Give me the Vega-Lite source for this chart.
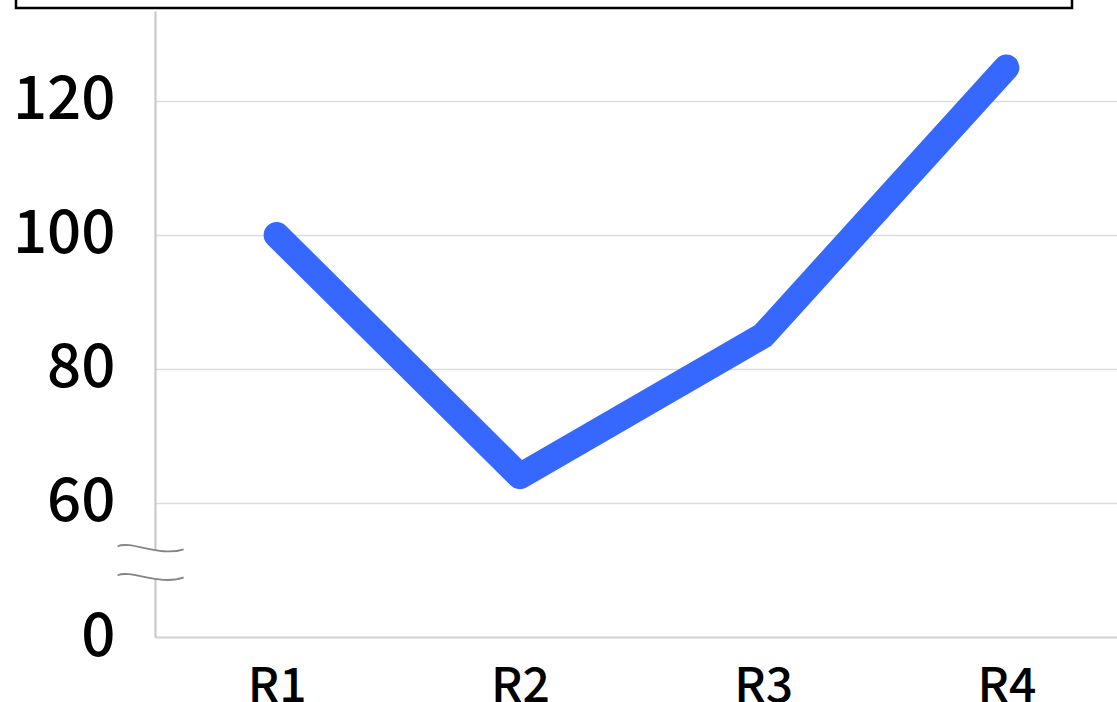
{
  "$schema": "https://vega.github.io/schema/vega-lite/v6.json",
  "padding": {"left": 12, "top": -25, "right": 0, "bottom": 0},
  "width": 973,
  "height": 626,
  "config": {
    "font": "Noto Sans CJK JP",
    "view": {"stroke": null},
    "legend": {"strokeWidth": 2.5}
  },
  "layer": [
    {
      "data": {"values": [
        {"round": "R1", "value": 100},
        {"round": "R2", "value": 64},
        {"round": "R3", "value": 85},
        {"round": "R4", "value": 125}
      ]},
      "mark": {"type": "line", "color": "#3667ff", "strokeWidth": 26, "strokeCap": "round", "strokeJoin": "round"},
      "encoding": {
        "x": {
          "field": "round", "type": "ordinal", "sort": null,
          "axis": {"title": null, "labelAngle": 0, "ticks": false, "grid": false, "labelFontSize": 48, "labelFontWeight": 500, "labelColor": "#000000", "labelPadding": 26, "domainColor": "#d6d6d6", "domainWidth": 2}
        },
        "y": {
          "field": "value", "type": "quantitative",
          "scale": {"domain": [40, 133.43], "nice": false, "zero": false},
          "axis": {"title": null, "values": [40, 60, 80, 100, 120], "labelExpr": "datum.value == 40 ? '0' : datum.label", "ticks": false, "labelPadding": 40, "labelFontSize": 60, "labelFontWeight": 500, "labelColor": "#000000", "grid": true, "gridColor": "#dcdcdc", "gridWidth": 1.5, "domainColor": "#c6c6c6", "domainWidth": 2}
        }
      }
    },
    {
      "data": {"values": [{"k": 0}]},
      "mark": {"type": "point", "shape": "M -33 -17 C -20 -23 10 -6 33 -14 L 33 14 C 10 23 -20 6 -33 12 Z", "size": 4, "filled": true, "strokeWidth": 0, "opacity": 1, "xOffset": -126},
      "encoding": {
        "x": {"datum": "R1"},
        "y": {"datum": 51},
        "color": {
          "field": "k", "type": "quantitative",
          "scale": {"domain": [0, 1], "range": ["#ffffff", "#ffffff"]},
          "legend": {"orient": "none", "legendX": -139, "legendY": -34, "direction": "horizontal", "title": null, "labelFontSize": 1, "labelOpacity": 0, "labelOffset": 0, "gradientLength": 1046, "gradientThickness": 20, "gradientStrokeWidth": 0, "padding": 5, "strokeColor": "#000000", "fillColor": "#ffffff"}
        }
      }
    },
    {
      "data": {"values": [{}]},
      "mark": {"type": "point", "shape": "M -33 -17 C -20 -23 10 -6 33 -14 M -33 12 C -20 6 10 23 33 14", "size": 4, "filled": false, "stroke": "#858585", "strokeWidth": 1.8, "opacity": 1, "xOffset": -126},
      "encoding": {"x": {"datum": "R1"}, "y": {"datum": 51}}
    }
  ]
}
